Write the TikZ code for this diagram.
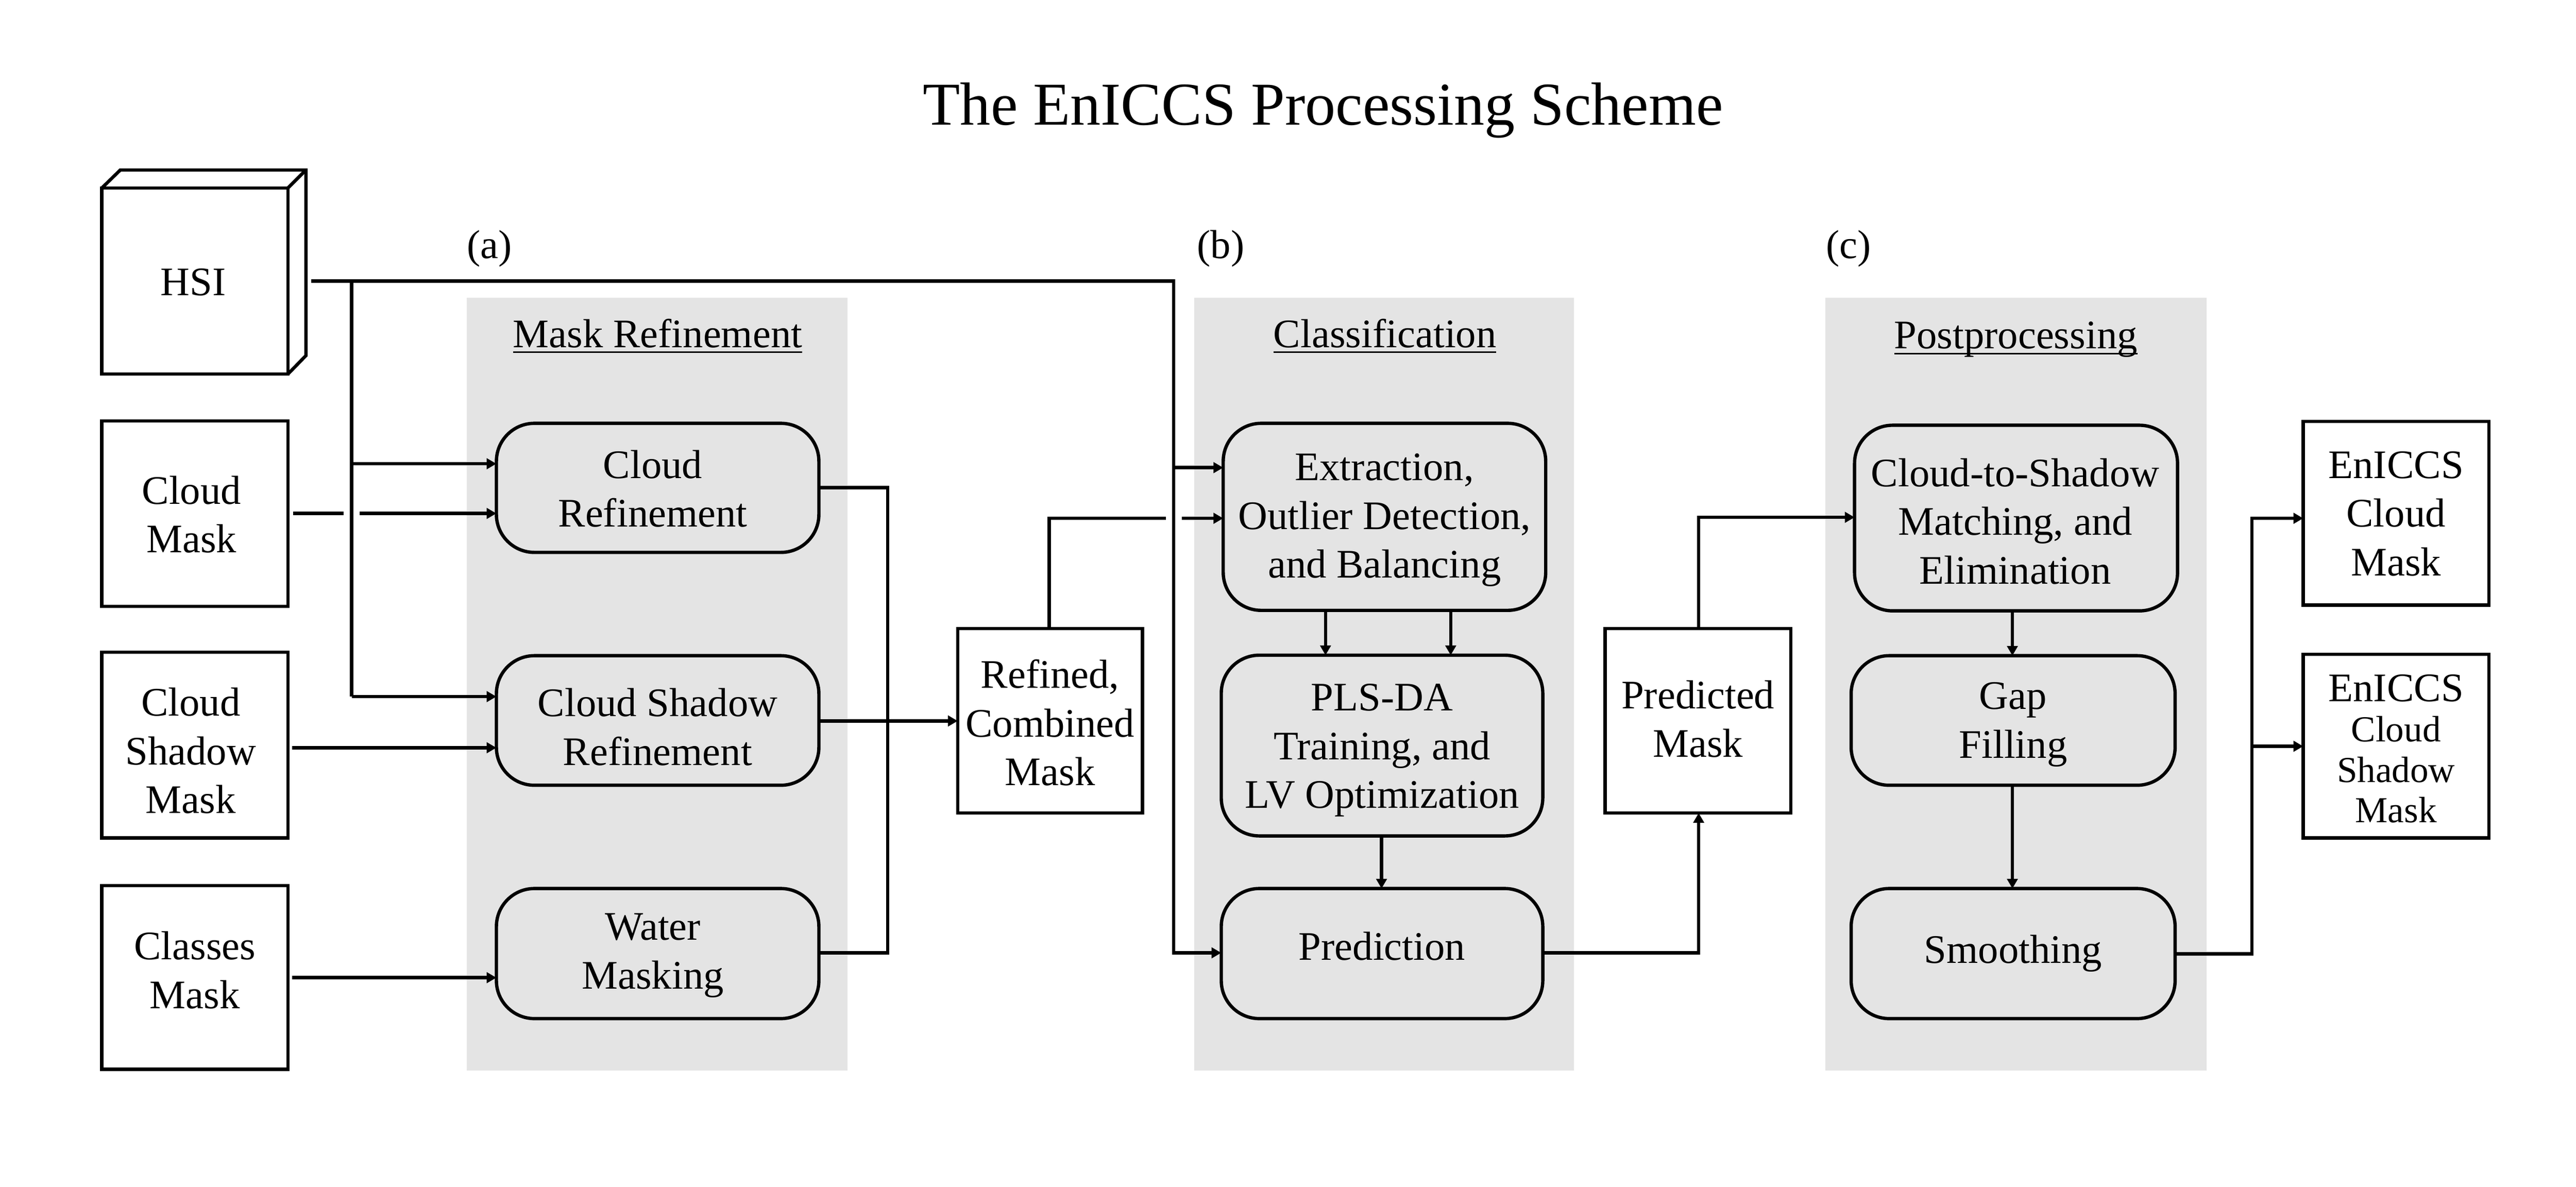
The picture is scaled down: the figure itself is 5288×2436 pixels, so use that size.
\documentclass[tikz,border=0pt]{standalone}
\usepackage{fontspec}
\setmainfont{Liberation Serif}
\usetikzlibrary{arrows.meta}
\newcommand{\bxnode}[7]{%
  \pgfmathsetmacro{\bw}{(#5-#3)*0.25}%
  \pgfmathsetmacro{\bh}{(#6-#4)*0.25}%
  \node[#1,minimum width=\bw pt,minimum height=\bh pt] (#2) at ({(#3+#5)/2},{(#4+#6)/2}) {#7};%
}
% text lines placed at an offset (dx right, dy up, in pt) from the centre of their box
\newcommand{\offtext}[4][1]{%
  \makebox[0pt][c]{\hspace*{\dimexpr 2\dimexpr #2pt\relax\relax}\raisebox{\dimexpr #3pt - 5.2pt\relax}[0pt][0pt]{%
    \renewcommand{\arraystretch}{#1}\begin{tabular}{@{}c@{}}#4\end{tabular}}}}
\newcommand{\ulbox}[1]{\setbox0=\hbox{#1}\rlap{\rule[-2.9pt]{\wd0}{0.8pt}}\box0 }
\tikzset{
  base text/.style={inner sep=0pt,outer sep=0pt,font=\fontsize{20.8}{25}\selectfont},
  sqbox/.style={base text,draw=black,line width=1.7pt,fill=white},
  rbox/.style={sqbox,fill=panelgray,rounded corners=19.5pt},
  panel/.style={inner sep=0pt,outer sep=0pt,fill=panelgray,draw=none},
  paneltitle/.style={base text,anchor=base},
  steplabel/.style={base text,anchor=base},
  conn/.style={draw=black,line width=1.7pt},
  arr/.style={conn,-{Triangle[length=5pt,width=5.4pt]}},
}
\definecolor{panelgray}{HTML}{E4E4E4}
\begin{document}
\begin{tikzpicture}[x=0.25pt,y=-0.25pt]
\useasboundingbox (0,0) rectangle (5288,2436);
\fill[white] (0,0) rectangle (5288,2436);
% panels
\bxnode{panel}{pa}{958}{611}{1740}{2198}{}
\bxnode{panel}{pb}{2451}{611}{3231}{2198}{}
\bxnode{panel}{pc}{3747}{611}{4530}{2198}{}
% title and labels
\node[base text,anchor=base,font=\fontsize{31.25}{36}\selectfont] (title) at (2716,256) {The EnICCS Processing Scheme};
\node[steplabel] (la) at (1005,530) {(a)};
\node[steplabel] (lb) at (2506,530) {(b)};
\node[steplabel] (lc) at (3795,530) {(c)};
\node[paneltitle] (ta) at (1350,713) {\ulbox{Mask Refinement}};
\node[paneltitle] (tb) at (2843,713) {\ulbox{Classification}};
\node[paneltitle] (tc) at (4138,716) {\ulbox{Postprocessing}};
% inputs
\bxnode{sqbox}{hsi}{209}{386}{591}{768}{\offtext{-0.8}{-2.5}{HSI}}
\coordinate (hsib1) at (247,349);
\coordinate (hsib2) at (628,349);
\coordinate (hsib3) at (628,730);
\draw[conn,line join=miter] (hsi.north west) -- (hsib1) -- (hsib2) -- (hsib3) -- (hsi.south east);
\draw[conn] (hsi.north east) -- (hsib2);
\bxnode{sqbox}{cm}{209}{864}{591}{1245}{\offtext{-1.7}{-2.5}{Cloud\\Mask}}
\bxnode{sqbox}{sm}{209}{1339}{591}{1720}{\offtext{-2.1}{-5}{Cloud\\Shadow\\Mask}}
\bxnode{sqbox}{km}{209}{1818}{591}{2195}{\offtext{0}{1.7}{Classes\\Mask}}
% panel a
\bxnode{rbox}{cr}{1019}{869}{1681}{1134}{\offtext{-2.5}{-2.5}{Cloud\\Refinement}}
\bxnode{rbox}{sr}{1019}{1346}{1681}{1612}{\offtext{0}{-5.5}{Cloud Shadow\\Refinement}}
\bxnode{rbox}{wm}{1019}{1824}{1681}{2091}{\offtext{-2.5}{-0.5}{Water\\Masking}}
\bxnode{sqbox}{rc}{1966}{1290}{2345}{1669}{\offtext{0}{-3.3}{Refined,\\Combined\\Mask}}
% panel b
\bxnode{rbox}{ex}{2511}{869}{3173}{1253}{\offtext{0}{-1.3}{Extraction,\\Outlier Detection,\\and Balancing}}
\bxnode{rbox}{pl}{2507}{1345}{3167}{1716}{\offtext{0}{-2.1}{PLS-DA\\Training, and\\LV Optimization}}
\bxnode{rbox}{pr}{2507}{1824}{3167}{2091}{\offtext{0}{1.7}{Prediction}}
\bxnode{sqbox}{pm}{3295}{1290}{3676}{1669}{\offtext{0}{-1.2}{Predicted\\Mask}}
% panel c
\bxnode{rbox}{cs}{3807}{873}{4470}{1254}{\offtext{-0.4}{-3.8}{Cloud-to-Shadow\\Matching, and\\Elimination}}
\bxnode{rbox}{gf}{3800}{1346}{4465}{1612}{\offtext{0}{-1.7}{Gap\\Filling}}
\bxnode{rbox}{sm2}{3800}{1824}{4465}{2091}{\offtext{0}{0}{Smoothing}}
% outputs
\bxnode{sqbox}{o1}{4728}{865}{5109}{1242}{\offtext{0}{-2}{EnICCS\\Cloud\\Mask}}
\bxnode{sqbox}{o2}{4728}{1343}{5109}{1720}{\offtext[0.83]{0}{-4}{EnICCS\\{\fontsize{18.8}{20.7}\selectfont Cloud}\\{\fontsize{18.8}{20.7}\selectfont Shadow}\\{\fontsize{18.8}{20.7}\selectfont Mask}}}
% connector junctions
\coordinate (h0) at (639,577);
\coordinate (h1) at (722,577);
\coordinate (h2) at (2409,577);
\coordinate (h3) at (2409,1956);
\coordinate (v1) at (722,952);
\coordinate (v2) at (722,1430);
\coordinate (v3) at (2409,960);
\coordinate (c0) at (602,1054);
\coordinate (c1) at (705,1054);
\coordinate (c2) at (738,1054);
\coordinate (s0) at (600,1535);
\coordinate (k0) at (600,2007);
\coordinate (r1) at (1822,1001);
\coordinate (r2) at (1822,1956);
\coordinate (r3) at (1681,1001);
\coordinate (r4) at (1681,1956);
\coordinate (r5) at (1681,1480);
\coordinate (q0) at (2154,1064);
\coordinate (q1) at (2393,1064);
\coordinate (q2) at (2426,1064);
\coordinate (x1) at (2721,1253);
\coordinate (x2) at (2978,1253);
\coordinate (x3) at (2836,1716);
\coordinate (p1) at (3487,1956);
\coordinate (p2) at (3487,1062);
\coordinate (y1) at (4131,1254);
\coordinate (y2) at (4131,1612);
\coordinate (z0) at (4465,1958);
\coordinate (z1) at (4623,1958);
\coordinate (z2) at (4623,1064);
\coordinate (z3) at (4623,1532);
% connectors
\draw[arr] (h0) -- (h2) -- (h3) -- (pr.west |- h3);
\draw[conn] (h1) -- (v2);
\draw[arr] (v1) -- (cr.west |- v1);
\draw[arr] (v2) -- (sr.west |- v2);
\draw[arr] (v3) -- (ex.west |- v3);
\draw[conn] (c0) -- (c1);
\draw[arr] (c2) -- (cr.west |- c2);
\draw[arr] (s0) -- (sr.west |- s0);
\draw[arr] (k0) -- (wm.west |- k0);
\draw[conn] (r3) -- (r1) -- (r2) -- (r4);
\draw[arr] (r5) -- (rc.west |- r5);
\draw[conn] (rc.north -| q0) -- (q0) -- (q1);
\draw[arr] (q2) -- (ex.west |- q2);
\draw[arr] (x1) -- (pl.north -| x1);
\draw[arr] (x2) -- (pl.north -| x2);
\draw[arr] (x3) -- (pr.north -| x3);
\draw[arr] (pr.east |- p1) -- (p1) -- (pm.south -| p1);
\draw[arr] (pm.north -| p2) -- (p2) -- (cs.west |- p2);
\draw[arr] (y1) -- (gf.north -| y1);
\draw[arr] (y2) -- (sm2.north -| y2);
\draw[arr] (z0) -- (z1) -- (z2) -- (o1.west |- z2);
\draw[arr] (z3) -- (o2.west |- z3);
\end{tikzpicture}
\end{document}
